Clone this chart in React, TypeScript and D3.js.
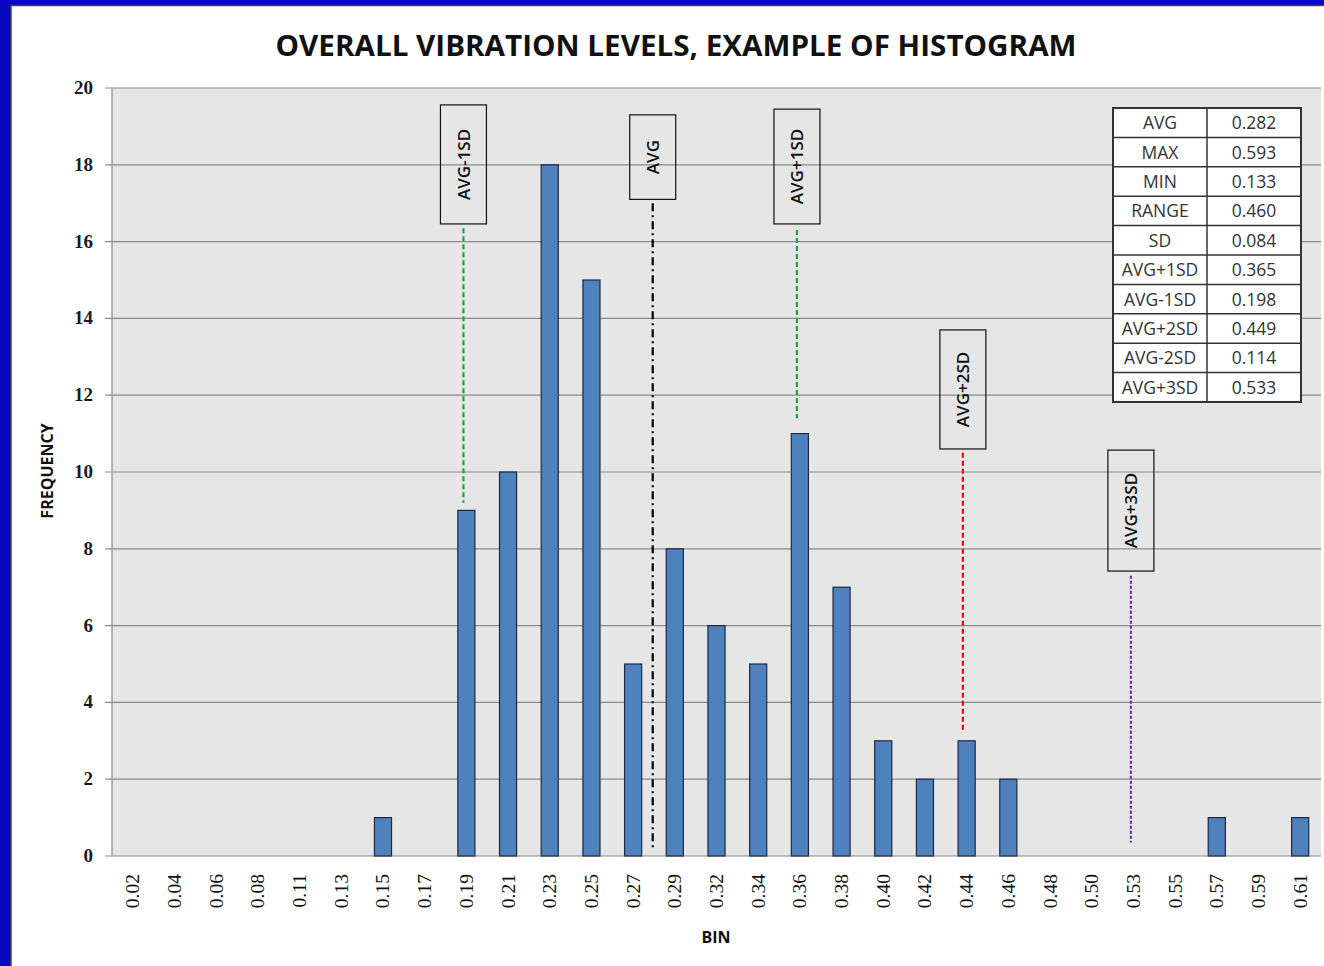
import React from "react";
import * as d3 from "d3";

const bins = ["0.02","0.04","0.06","0.08","0.11","0.13","0.15","0.17","0.19","0.21","0.23","0.25","0.27","0.29","0.32","0.34","0.36","0.38","0.40","0.42","0.44","0.46","0.48","0.50","0.53","0.55","0.57","0.59","0.61"];
const freq = [0,0,0,0,0,0,1,0,9,10,18,15,5,8,6,5,11,7,3,2,3,2,0,0,0,0,1,0,1];
const yTicks = [0,2,4,6,8,10,12,14,16,18,20];

const statNames = ["AVG","MAX","MIN","RANGE","SD","AVG+1SD","AVG-1SD","AVG+2SD","AVG-2SD","AVG+3SD"];
const statValues = ["0.282","0.593","0.133","0.460","0.084","0.365","0.198","0.449","0.114","0.533"];

// annotation markers: label, position in bin units, line range (freq units), box range (freq units)
const markerLabels = ["AVG-1SD","AVG","AVG+1SD","AVG+2SD","AVG+3SD"];
const markerPos = [8.43, 12.97, 16.43, 20.41, 24.44];
const markerLineTop = [16.35, 17.0, 16.3, 10.5, 7.3];
const markerLineBottom = [9.2, 0.15, 11.4, 3.25, 0.35];
const markerBoxTop = [19.56, 19.3, 19.45, 13.7, 10.57];
const markerBoxBottom = [16.46, 17.1, 16.46, 10.6, 7.42];
const markerColors = ["#1aa34a","#000000","#1aa34a","#ff0000","#7030a0"];
const markerDash = ["5,3","8,4,2,4","5,3","5,3","3,2"];

const W = 1324, H = 966;
const PL = 112, PR = 1321, PT = 88, PB = 856;

export default function App() {
  const x = d3.scaleBand<string>().domain(bins).range([PL, PR]).paddingInner(0.59).paddingOuter(0.295);
  const xi = d3.scaleLinear().domain([0, bins.length]).range([PL, PR]);
  const y = d3.scaleLinear().domain([0, 20]).range([PB, PT]);
  const sans = "'Open Sans', 'Noto Sans', sans-serif";
  const serif = "'Liberation Serif', 'DejaVu Serif', serif";
  const tX = 1113, tW = 188, tTop = 108, rowH = 29.4;

  return (
    <svg width={W} height={H} style={{ position: "absolute", left: 0, top: 0 }}>
      <rect x={0} y={0} width={W} height={H} fill="#0808c0" />
      <rect x={11} y={5.5} width={W + 20} height={H + 20} fill="#ffffff" stroke="#444" strokeWidth={1.5} />
      <text x={676} y={56} textAnchor="middle" fontFamily={sans} fontWeight={700} fontSize={28} fill="#111" textLength={801} lengthAdjust="spacingAndGlyphs">OVERALL VIBRATION LEVELS, EXAMPLE OF HISTOGRAM</text>

      <rect x={PL} y={PT} width={PR - PL} height={PB - PT} fill="#e6e6e6" />
      {yTicks.map((t) => (
        <g key={t}>
          <line x1={PL - 7} x2={PR} y1={y(t)} y2={y(t)} stroke="#8a8a8a" strokeWidth={1.2} />
          <text x={93} y={y(t) + 6} textAnchor="end" fontFamily={serif} fontSize={19} fontWeight={700} fill="#1a1a1a">{t}</text>
        </g>
      ))}
      <line x1={PL} x2={PL} y1={PT} y2={PB} stroke="#8a8a8a" strokeWidth={1.2} />

      {bins.map((b, i) => (
        freq[i] > 0 ? (
          <rect key={b} x={x(b)!} y={y(freq[i])} width={x.bandwidth()} height={y(0) - y(freq[i])} fill="#4f81bd" stroke="#1c2a44" strokeWidth={1.2} />
        ) : null
      ))}

      {bins.map((b) => {
        const cx = x(b)! + x.bandwidth() / 2;
        return (
          <text key={b} transform={`translate(${cx + 6.5},874) rotate(-90)`} textAnchor="end" fontFamily={serif} fontSize={19.5} fill="#111">{b}</text>
        );
      })}

      {markerLabels.map((m, i) => {
        const cx = xi(markerPos[i]);
        const bt = y(markerBoxTop[i]);
        const bb = y(markerBoxBottom[i]);
        return (
          <g key={m}>
            <line x1={cx} x2={cx} y1={y(markerLineTop[i])} y2={y(markerLineBottom[i])} stroke={markerColors[i]} strokeWidth={2.2} strokeDasharray={markerDash[i]} />
            <rect x={cx - 23} y={bt} width={46} height={bb - bt} fill="none" stroke="#111" strokeWidth={1.2} />
            <text transform={`translate(${cx + 6.5},${(bt + bb) / 2}) rotate(-90)`} textAnchor="middle" fontFamily={sans} fontWeight={600} fontSize={17} fill="#111">{m}</text>
          </g>
        );
      })}

      <g>
        <rect x={tX} y={tTop} width={tW} height={rowH * statNames.length} fill="#ffffff" />
        {statNames.map((s, i) => (
          <g key={s}>
            <text x={tX + tW / 4} y={tTop + rowH * i + rowH / 2 + 6.5} textAnchor="middle" fontFamily={sans} fontSize={17.5} fill="#333">{s}</text>
            <text x={tX + (3 * tW) / 4} y={tTop + rowH * i + rowH / 2 + 6.5} textAnchor="middle" fontFamily={sans} fontSize={17.5} fill="#333">{statValues[i]}</text>
            {i > 0 ? <line x1={tX} x2={tX + tW} y1={tTop + rowH * i} y2={tTop + rowH * i} stroke="#333" strokeWidth={1.5} /> : null}
          </g>
        ))}
        <line x1={tX + tW / 2} x2={tX + tW / 2} y1={tTop} y2={tTop + rowH * statNames.length} stroke="#333" strokeWidth={1.5} />
        <rect x={tX} y={tTop} width={tW} height={rowH * statNames.length} fill="none" stroke="#333" strokeWidth={2} />
      </g>

      <text x={716} y={943} textAnchor="middle" fontFamily={sans} fontWeight={700} fontSize={16} fill="#111">BIN</text>
      <text transform="translate(53,471) rotate(-90)" textAnchor="middle" fontFamily={sans} fontWeight={700} fontSize={16} fill="#111">FREQUENCY</text>
    </svg>
  );
}
